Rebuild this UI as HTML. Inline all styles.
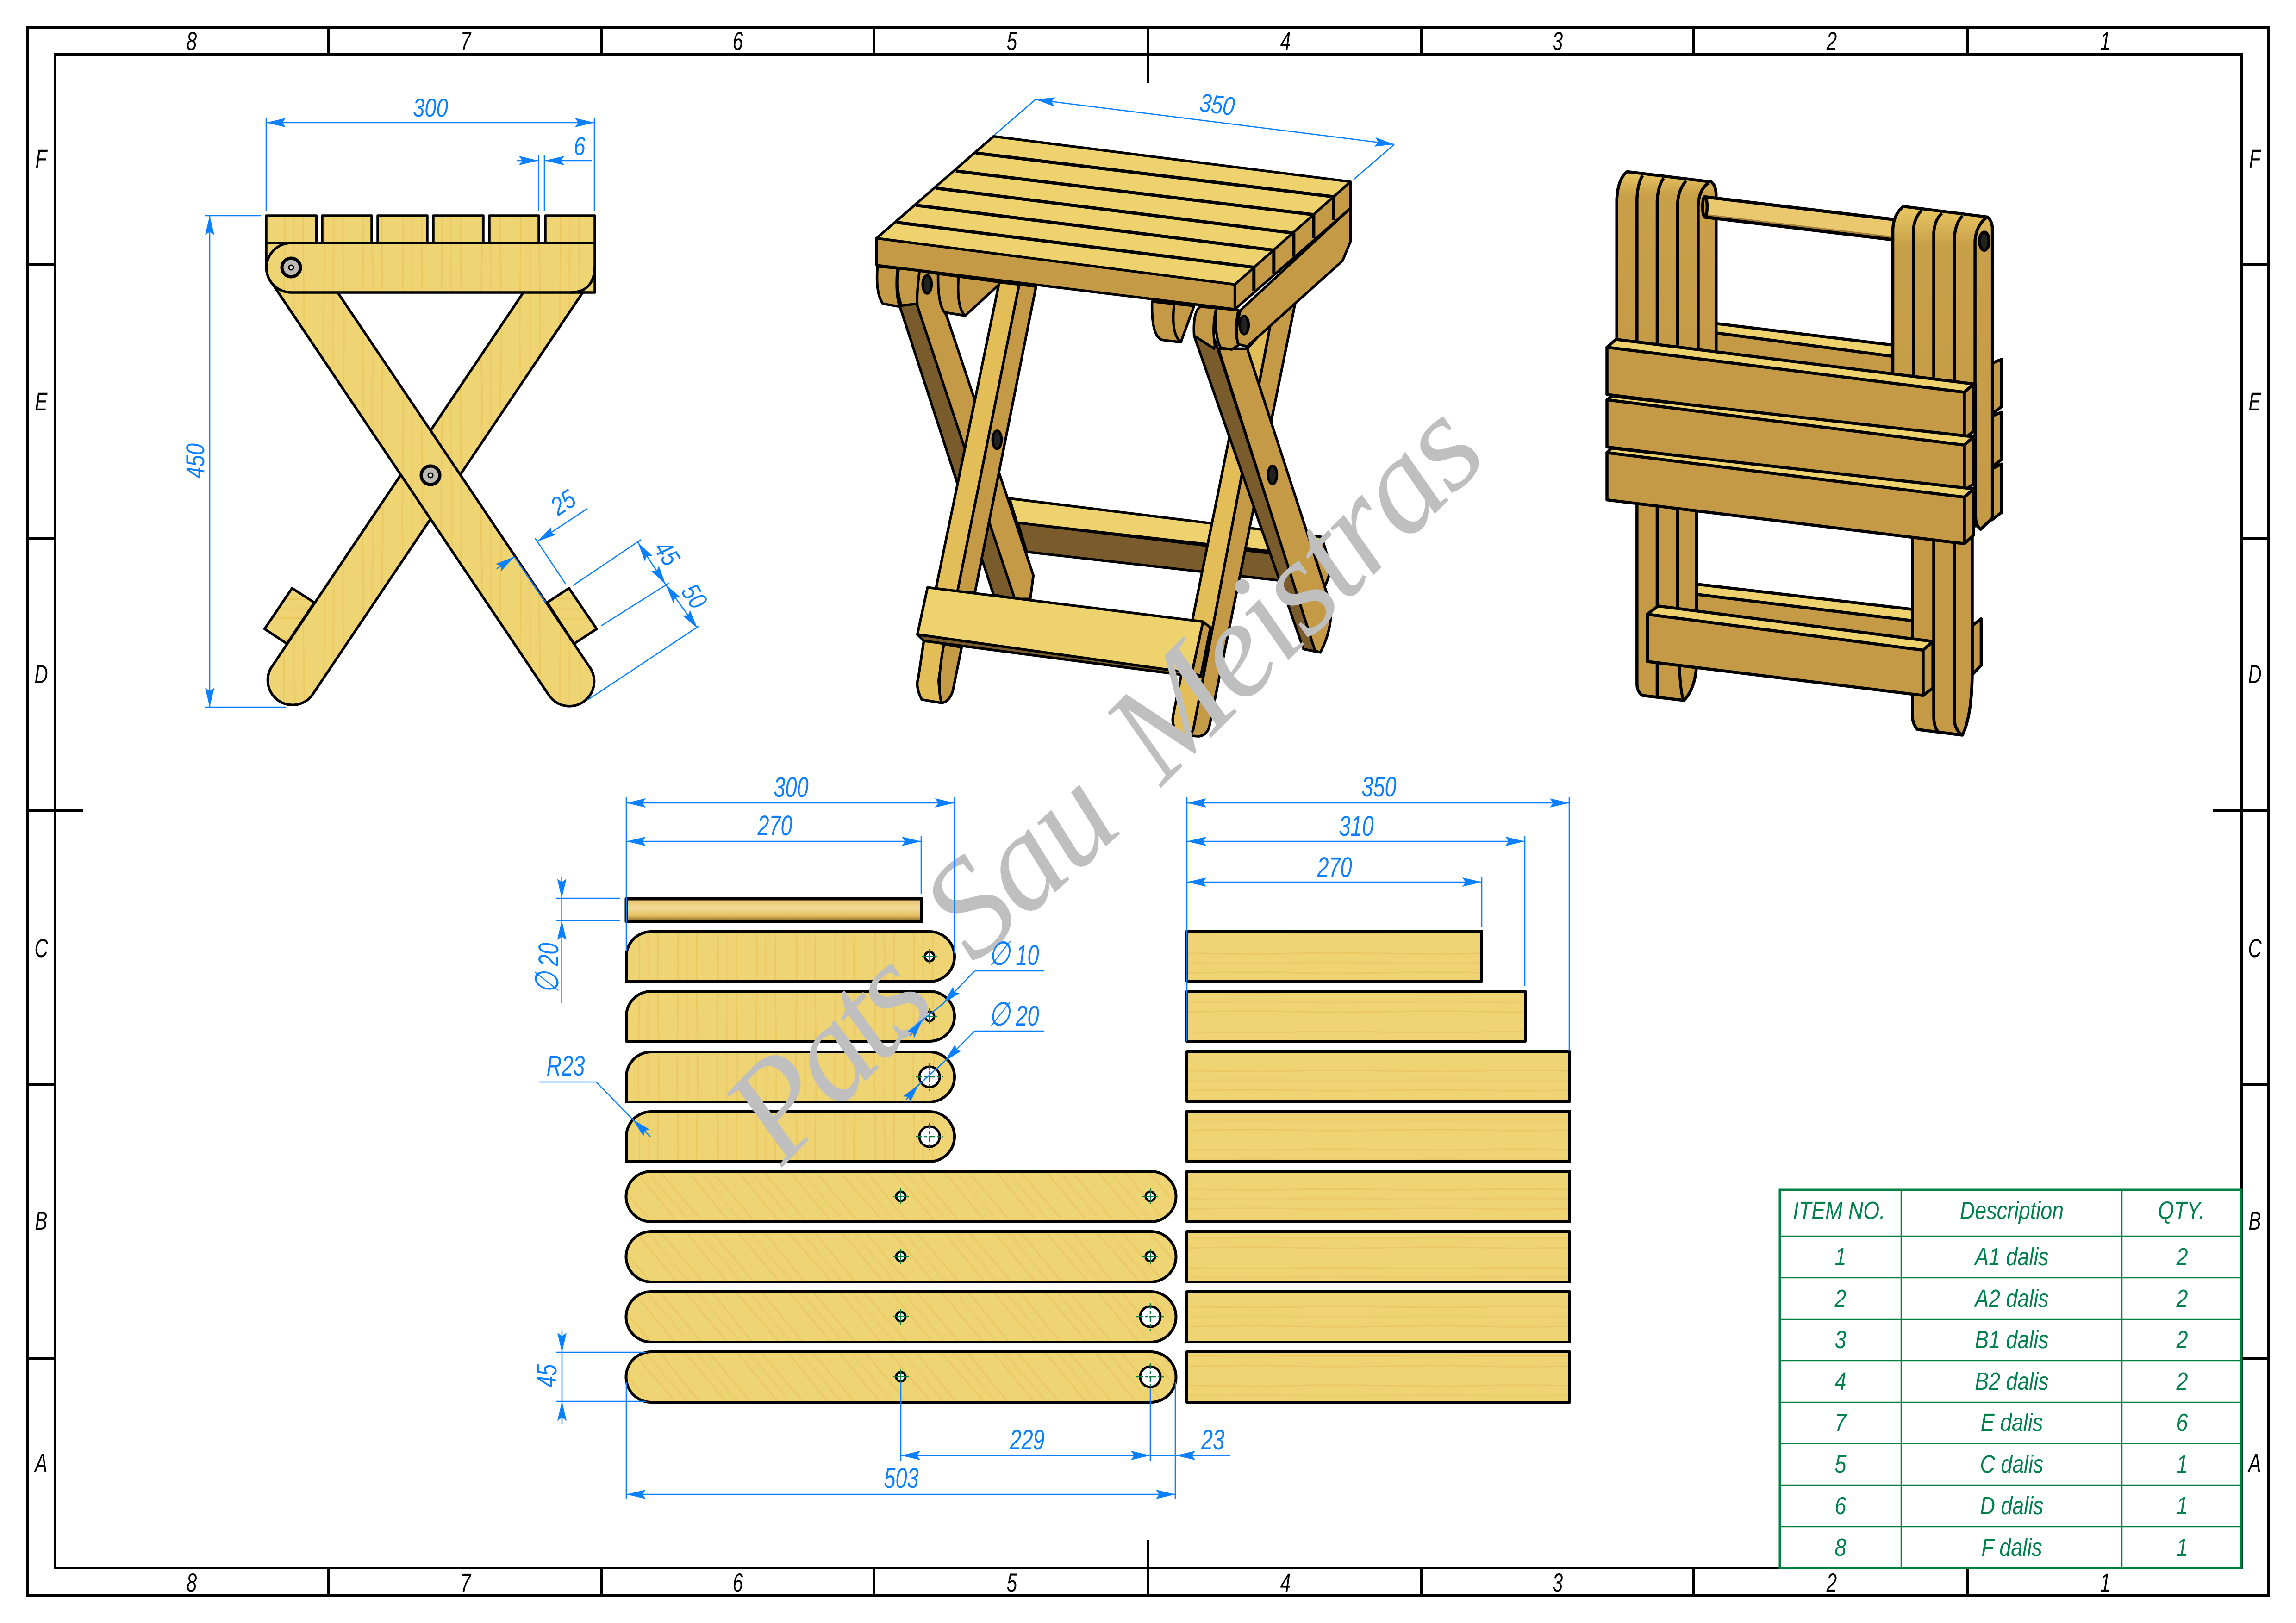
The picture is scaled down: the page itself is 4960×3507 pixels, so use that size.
<!DOCTYPE html>
<html><head><meta charset="utf-8"><title>Folding stool drawing</title>
<style>
html,body{margin:0;padding:0;background:#fff}
svg{display:block}
text{font-family:"Liberation Sans",sans-serif;font-style:italic}
.d{fill:#0a80ff;font-size:56px;text-anchor:middle}
.e{fill:#0a80ff;font-size:61px;text-anchor:middle}
.t{fill:#00804a;font-size:54px;text-anchor:middle}
.k{fill:#000;font-size:56px;text-anchor:middle}
.w{font-family:"Liberation Serif",serif;font-style:italic;font-size:300px;fill:#bfbfbf}
.z *{vector-effect:non-scaling-stroke}
.dl line,.dl path,.dl polyline{fill:none;stroke:#0a80ff;stroke-width:2.6}
.top{fill:#eed26d}.mid{fill:#c49a46}.drk{fill:#7a5c2c}.lit{fill:#e3bd58}
</style></head><body>
<svg xmlns="http://www.w3.org/2000/svg" width="4960" height="3507" viewBox="0 0 4960 3507">
<defs>
<pattern id="wv" patternUnits="userSpaceOnUse" width="170" height="400">
<rect width="170" height="400" fill="#efd474"/>
<path d="M20,0C24,120 17,260 20,400M62,0C58,140 66,280 62,400M104,0C108,100 100,300 104,400M146,0C142,160 150,250 146,400" fill="none" stroke="#e8bd55" stroke-width="3" opacity=".55"/>
<path d="M40,0C43,150 38,250 40,400M125,0C122,120 128,280 125,400" fill="none" stroke="#ebc862" stroke-width="5" opacity=".5"/>
</pattern>
<pattern id="wh" href="#wv" patternTransform="rotate(90)"/>
<pattern id="wd" href="#wv" patternTransform="rotate(-40)"/>
<linearGradient id="rod" x1="0" y1="0" x2="0" y2="1"><stop offset="0" stop-color="#e8c262"/><stop offset=".4" stop-color="#f0d99a"/><stop offset=".75" stop-color="#e8c060"/><stop offset="1" stop-color="#80622e"/></linearGradient>
<linearGradient id="stack" x1="0" y1="0" x2="0" y2="1"><stop offset="0" stop-color="#eac863"/><stop offset=".12" stop-color="#c9a04a"/><stop offset="1" stop-color="#c49a46"/></linearGradient>
<marker id="a" markerUnits="userSpaceOnUse" markerWidth="44" markerHeight="24" refX="42" refY="12" orient="auto-start-reverse"><path d="M42,12L0,2L7,12L0,22Z" fill="#0a80ff"/></marker>
<g id="bolt"><circle r="20" fill="#bdb9b4" stroke="#000" stroke-width="7"/><circle r="5" fill="#ddd" stroke="#000" stroke-width="3"/></g>
<g id="hs"><circle r="10" fill="#fff" stroke="#000" stroke-width="5"/><path d="M-17,0H17M0,-17V17" stroke="#008040" stroke-width="2" fill="none"/></g>
<g id="hb"><circle r="22" fill="#fff" stroke="#000" stroke-width="5"/><path d="M-30,0H30M0,-30V30" stroke="#008040" stroke-width="2.5" fill="none" stroke-dasharray="14 4 6 4"/></g>
</defs>
<rect width="4960" height="3507" fill="#fff"/>

<!-- frame -->
<g fill="none" stroke="#000" stroke-width="6">
<rect x="59" y="59" width="4842" height="3389"/>
<rect x="119" y="118" width="4723" height="3270"/>
<path d="M709,59V118M1300,59V118M1888,59V118M2480,59V180M3071,59V118M3659,59V118M4251,59V118"/>
<path d="M709,3388V3448M1300,3388V3448M1888,3388V3448M2480,3327V3448M3071,3388V3448M3659,3388V3448M4251,3388V3448"/>
<path d="M59,572H119M59,1164H119M59,1752H180M59,2344H119M59,2935H119"/>
<path d="M4842,572H4901M4842,1164H4901M4780,1752H4901M4842,2344H4901M4842,2935H4901"/>
</g>
<g class="k">
<text class="k" transform="translate(414,108) scale(.72,1)">8</text><text class="k" transform="translate(1006,108) scale(.72,1)">7</text><text class="k" transform="translate(1594,108) scale(.72,1)">6</text><text class="k" transform="translate(2186,108) scale(.72,1)">5</text><text class="k" transform="translate(2777,108) scale(.72,1)">4</text><text class="k" transform="translate(3365,108) scale(.72,1)">3</text><text class="k" transform="translate(3957,108) scale(.72,1)">2</text><text class="k" transform="translate(4548,108) scale(.72,1)">1</text>
<text class="k" transform="translate(414,3439) scale(.72,1)">8</text><text class="k" transform="translate(1006,3439) scale(.72,1)">7</text><text class="k" transform="translate(1594,3439) scale(.72,1)">6</text><text class="k" transform="translate(2186,3439) scale(.72,1)">5</text><text class="k" transform="translate(2777,3439) scale(.72,1)">4</text><text class="k" transform="translate(3365,3439) scale(.72,1)">3</text><text class="k" transform="translate(3957,3439) scale(.72,1)">2</text><text class="k" transform="translate(4548,3439) scale(.72,1)">1</text>
<text class="k" transform="translate(89,362) scale(.72,1)">F</text><text class="k" transform="translate(89,887) scale(.72,1)">E</text><text class="k" transform="translate(89,1476) scale(.72,1)">D</text><text class="k" transform="translate(89,2068) scale(.72,1)">C</text><text class="k" transform="translate(89,2657) scale(.72,1)">B</text><text class="k" transform="translate(89,3180) scale(.72,1)">A</text>
<text class="k" transform="translate(4871,362) scale(.72,1)">F</text><text class="k" transform="translate(4871,887) scale(.72,1)">E</text><text class="k" transform="translate(4871,1476) scale(.72,1)">D</text><text class="k" transform="translate(4871,2068) scale(.72,1)">C</text><text class="k" transform="translate(4871,2657) scale(.72,1)">B</text><text class="k" transform="translate(4871,3180) scale(.72,1)">A</text>
</g>

<!-- front view -->
<g stroke="#000" stroke-width="5.5" stroke-linejoin="round" fill="url(#wv)">
<path fill="url(#wh)" d="M631,1271L571.6,1359L620,1391L679,1302Z"/>
<path fill="url(#wh)" d="M1229,1271L1289,1359L1240,1391L1182,1302Z"/>
<path d="M1187,548L585,1444A53.5,53.5 0 0 0 673,1504L1275,608A53.5,53.5 0 0 0 1187,548Z"/>
<path d="M673,548L1275.5,1444A53.5,53.5 0 0 1 1187,1504L585,608A53.5,53.5 0 0 1 673,548Z"/>
<path d="M575,578V525H1285V632H1232"/>
<path d="M629,525H1285V572Q1285,632 1232,632H629A53.5,53.5 0 0 1 629,525Z"/>
<rect x="575" y="466" width="108.500" height="59"/><rect x="696" y="466" width="107" height="59"/><rect x="816" y="466" width="107" height="59"/><rect x="936" y="466" width="108" height="59"/><rect x="1057" y="466" width="107" height="59"/><rect x="1178" y="466" width="107" height="59"/>
</g>
<use href="#bolt" x="629" y="578"/><use href="#bolt" x="930" y="1027"/>
<g class="dl">
<line x1="575" y1="254" x2="575" y2="455"/><line x1="1284" y1="254" x2="1284" y2="455"/>
<line x1="575" y1="265" x2="1284" y2="265" marker-start="url(#a)" marker-end="url(#a)"/>
<line x1="1163.500" y1="335" x2="1163.500" y2="455"/><line x1="1176" y1="335" x2="1176" y2="455"/>
<line x1="1117" y1="347" x2="1163" y2="347" marker-end="url(#a)"/><line x1="1279" y1="347" x2="1177" y2="347" marker-end="url(#a)"/>
<line x1="443" y1="466" x2="563" y2="466"/><line x1="443" y1="1528" x2="617" y2="1528"/>
<line x1="453" y1="466" x2="453" y2="1528" marker-start="url(#a)" marker-end="url(#a)"/>
<line x1="1156" y1="1163" x2="1222" y2="1262"/><line x1="1111" y1="1203" x2="1179" y2="1302"/>
<line x1="1269" y1="1099" x2="1161" y2="1170" marker-end="url(#a)"/><line x1="1073" y1="1229" x2="1111" y2="1203" marker-end="url(#a)"/>
<line x1="1238" y1="1265" x2="1385" y2="1166"/><line x1="1299" y1="1352" x2="1445" y2="1260"/><line x1="1270" y1="1512" x2="1511" y2="1352"/>
<line x1="1378" y1="1172" x2="1438" y2="1263" marker-start="url(#a)" marker-end="url(#a)"/>
<line x1="1438" y1="1263" x2="1507" y2="1358" marker-start="url(#a)" marker-end="url(#a)"/>
</g>
<text class="d" transform="translate(930,252) scale(.81,1)">300</text>
<text class="d" transform="translate(1252,335) scale(.81,1)">6</text>
<text class="d" transform="translate(441,996) rotate(-90) scale(.81,1)">450</text>
<text class="d" transform="translate(1227,1102) rotate(-33) scale(.81,1)">25</text>
<text class="d" transform="translate(1425,1206) rotate(56) scale(.81,1)">45</text>
<text class="d" transform="translate(1484,1299) rotate(56) scale(.81,1)">50</text>

<!-- isometric stool -->
<g class="z" transform="translate(1800,180) scale(.9566,.9247)" stroke="#000" stroke-width="5.5" stroke-linejoin="round">
<polygon class="top" points="398,970 1103,1060 1085,1105 415,1027"/>
<polygon class="drk" points="417,1027 1095,1112 1095,1172 437,1095"/>
<polygon class="mid" points="1103,1060 1125,1135 1112,1172 1090,1170 1085,1105"/>
<path class="lit" d="M935,620L988,560L815,1500Q812,1522 800,1524L780,1520Q762,1500 768,1475Z"/>
<path class="mid" d="M988,560L1043,515L850,1500Q845,1524 825,1526L800,1524Q812,1522 815,1500Z"/>
<path class="mid" d="M720,510L815,520L785,605L745,600Q718,595 720,510Z"/><path fill="none" d="M770,515Q762,585 785,605"/>
<path class="mid" d="M237,445L380,465L298,543L250,535Q235,520 237,445Z"/><path fill="none" d="M283,450Q278,525 298,543"/>
<path class="mid" d="M100,428L145,432Q140,490 150,522L112,515Q95,490 100,428Z"/>
<path class="mid" d="M148,432L195,438Q188,490 192,510L190,525L155,522Q140,480 148,432Z"/>
<polygon class="drk" points="150,520 190,515 410,1205 362,1195"/>
<path class="mid" d="M195,438L237,445Q235,520 255,540L452,1150L445,1205L410,1205L190,520Q188,490 195,438Z"/>
<ellipse cx="212" cy="470" rx="10" ry="21" fill="#222"/>
<polygon class="lit" points="375,465 420,470 280,1190 232,1180"/>
<polygon class="mid" points="420,470 458,475 320,1190 280,1190"/>
<ellipse cx="370" cy="833" rx="10" ry="21" fill="#222"/>
<path class="lit" d="M205,1300L250,1310L238,1395Q240,1430 245,1448L200,1440Q185,1410 192,1390Z"/>
<path class="mid" d="M250,1310L290,1318L270,1420Q262,1445 245,1448Q232,1410 250,1310Z"/>
<polygon class="drk" points="190,1288 810,1378 830,1388 205,1303"/>
<polygon class="mid" points="835,1258 852,1272 830,1385 810,1378"/>
<polygon class="top" points="213,1178 835,1258 810,1378 190,1288"/>
<polygon class="drk" points="815,590 862,600 1090,1328 1062,1322"/>
<path class="mid" d="M870,620L935,620L1122,1215Q1130,1270 1100,1330L1088,1326Z"/>
<ellipse cx="992" cy="915" rx="10" ry="21" fill="#222"/>
<path class="mid" d="M815,590Q812,530 830,522L865,525Q855,570 862,612L860,620Z"/>
<path class="mid" d="M865,525L915,530Q905,580 915,612L900,622L875,618Q860,590 865,525Z"/>
<path class="mid" d="M1168,292V370L1150,415L935,615L915,610Q905,580 920,530Z"/>
<ellipse cx="928" cy="565" rx="10" ry="21" fill="#222"/>
<polygon class="mid" points="98,362 907,470 907,528 98,425"/>
<polygon class="mid" points="1168,230 907,470 907,528 1168,292"/>
<polygon class="top" points="362,124 1168,230 907,470 98,362"/>
<g fill="none" stroke-width="7">
<path d="M322,163L1130,265M277,205L1085,307M232,245L1040,350M187,285L995,390M143,325L950,430"/>
<path d="M950,430V485M995,390V445M1040,350V405M1085,307V362M1130,265V320"/>
</g>
</g>
<g class="dl">
<line x1="2149" y1="291" x2="2237" y2="215"/><line x1="2924" y1="388" x2="3012" y2="312"/>
<line x1="2237" y1="215" x2="3012" y2="312" marker-start="url(#a)" marker-end="url(#a)"/>
</g>
<text class="d" transform="translate(2627,245) rotate(7) scale(.81,1)">350</text>

<!-- folded stool -->
<g class="z" transform="translate(3400,340) scale(.606,.816)" stroke="#000" stroke-width="6.5" stroke-linejoin="round">
<polygon class="mid" points="1490,545 1525,535 1525,660 1490,680"/>
<polygon class="mid" points="1490,685 1525,675 1525,800 1490,820"/>
<polygon class="mid" points="1490,825 1525,812 1525,940 1490,960"/>
<polygon class="mid" points="1420,1240 1452,1222 1452,1345 1420,1370"/>
<polygon class="top" points="507,440 1137,497 1137,527 507,465"/>
<polygon class="mid" points="507,465 1137,527 1137,600 507,540"/>
<polygon class="top" points="435,1130 1207,1197 1207,1227 435,1157"/>
<polygon class="mid" points="435,1157 1207,1227 1207,1300 435,1230"/>
<path class="mid" d="M225,915H437V1350Q430,1410 392,1438L245,1425Q225,1415 225,1395Z"/>
<path fill="none" d="M297,915V1430M370,925Q365,1410 392,1438"/>
<path class="mid" d="M1207,1005H1420V1370Q1418,1480 1385,1530L1225,1515Q1207,1500 1207,1480Z"/>
<path fill="none" d="M1283,1005V1480Q1283,1510 1300,1522M1357,1015V1490Q1357,1515 1385,1530"/>
<path fill="url(#stack)" d="M153,500V110Q158,55 190,38L490,65Q507,75 507,100V540H153Z"/>
<path fill="none" d="M225,500V110Q227,70 245,48M297,500V115Q300,75 320,55M370,510V120Q373,85 400,62M443,520V130Q445,85 480,68"/>
<polygon fill="#e9c86e" points="470,105 1145,165 1135,218 465,158"/>
<polygon fill="#a5803a" stroke="none" points="468,150 1138,209 1135,216 466,156"/>
<path fill="none" stroke-width="7" d="M470,105L1145,165M1135,218L465,158"/>
<ellipse cx="467" cy="131" rx="8" ry="27" class="mid"/>
<path fill="url(#stack)" d="M1137,590V190Q1140,150 1175,130L1475,158Q1492,170 1492,190V955L1450,985Q1432,975 1432,950V600Z"/>
<path fill="none" d="M1210,600V195Q1213,160 1240,140M1283,600V200Q1286,165 1312,148M1357,600V210Q1360,175 1385,155M1430,980V220Q1435,180 1470,160"/>
<ellipse cx="1463" cy="222" rx="17" ry="24" fill="#222"/>
<polygon class="top" points="118,503 150,482 1425,600 1392,622"/>
<polygon class="mid" points="118,503 1392,622 1392,745 118,628"/>
<polygon class="mid" points="1392,622 1425,600 1425,725 1392,745"/>
<polygon class="top" points="118,642 135,632 1425,740 1392,762"/>
<polygon class="mid" points="118,642 1392,762 1392,882 118,767"/>
<polygon class="mid" points="1392,762 1425,740 1425,865 1392,882"/>
<polygon class="top" points="118,782 135,770 1425,878 1392,900"/>
<polygon class="mid" points="118,782 1392,900 1392,1023 118,907"/>
<polygon class="mid" points="1392,900 1425,878 1425,1000 1392,1023"/>
<polygon class="top" points="262,1210 300,1188 1280,1282 1245,1305"/>
<polygon class="mid" points="262,1210 1245,1305 1245,1425 262,1335"/>
<polygon class="mid" points="1245,1305 1280,1282 1280,1405 1245,1425"/>
</g>

<!-- parts: left column -->
<g stroke="#000" stroke-width="6" stroke-linejoin="round" fill="url(#wv)">
<rect x="1353" y="1942" width="638" height="49" fill="url(#rod)" stroke-width="7"/>
<path d="M1353,2121V2067A54,54 0 0 1 1407,2013H2008A54,54 0 0 1 2008,2121Z"/>
<path d="M1353,2250V2196A54,54 0 0 1 1407,2142H2008A54,54 0 0 1 2008,2250Z"/>
<path d="M1353,2381V2327A54,54 0 0 1 1407,2273H2008A54,54 0 0 1 2008,2381Z"/>
<path d="M1353,2510V2456A54,54 0 0 1 1407,2402H2008A54,54 0 0 1 2008,2510Z"/>
<path fill="url(#wd)" d="M1407,2531H2486A54.500,54.500 0 0 1 2486,2640H1407A54.500,54.500 0 0 1 1407,2531Z"/>
<path fill="url(#wd)" d="M1407,2661H2486A54.500,54.500 0 0 1 2486,2770H1407A54.500,54.500 0 0 1 1407,2661Z"/>
<path fill="url(#wd)" d="M1407,2791H2486A54.500,54.500 0 0 1 2486,2900H1407A54.500,54.500 0 0 1 1407,2791Z"/>
<path fill="url(#wd)" d="M1407,2921H2486A54.500,54.500 0 0 1 2486,3030H1407A54.500,54.500 0 0 1 1407,2921Z"/>
<g fill="url(#wh)">
<rect x="2564" y="2012" width="637" height="108"/><rect x="2564" y="2142" width="731" height="108"/>
<rect x="2564" y="2272" width="827" height="108"/><rect x="2564" y="2401" width="827" height="109"/>
<rect x="2564" y="2531" width="827" height="109"/><rect x="2564" y="2661" width="827" height="109"/>
<rect x="2564" y="2791" width="827" height="109"/><rect x="2564" y="2921" width="827" height="109"/>
</g>
</g>
<use href="#hs" x="2008" y="2067"/><use href="#hs" x="2008" y="2196"/><use href="#hb" x="2008" y="2327"/><use href="#hb" x="2008" y="2456"/>
<use href="#hs" x="1946" y="2585"/><use href="#hs" x="2485" y="2585"/><use href="#hs" x="1946" y="2715"/><use href="#hs" x="2485" y="2715"/>
<use href="#hs" x="1946" y="2845"/><use href="#hb" x="2485" y="2845"/><use href="#hs" x="1946" y="2975"/><use href="#hb" x="2485" y="2975"/>

<!-- watermark -->
<text class="w" transform="translate(1690,2522) rotate(-46)" textLength="490">Pats</text>
<text class="w" transform="translate(2105,2085) rotate(-42)" textLength="440">Sau</text>
<text class="w" transform="translate(2510,1700) rotate(-45)" textLength="1005">Meistras</text>

<!-- part dimensions -->
<g class="dl">
<line x1="1353" y1="1723" x2="1353" y2="2055"/><line x1="2062" y1="1723" x2="2062" y2="2060"/>
<line x1="1353" y1="1735" x2="2062" y2="1735" marker-start="url(#a)" marker-end="url(#a)"/>
<line x1="1990" y1="1806" x2="1990" y2="1931"/>
<line x1="1353" y1="1818" x2="1990" y2="1818" marker-start="url(#a)" marker-end="url(#a)"/>
<line x1="1202" y1="1941" x2="1340" y2="1941"/><line x1="1202" y1="1989" x2="1340" y2="1989"/>
<line x1="1213.600" y1="1896" x2="1213.600" y2="1941" marker-end="url(#a)"/><line x1="1213.600" y1="2168" x2="1213.600" y2="1989" marker-end="url(#a)"/><line x1="1213.600" y1="1941" x2="1213.600" y2="1989"/>
<polyline points="2255,2098 2105.600,2098"/><line x1="2105.600" y1="2098" x2="2037" y2="2169" marker-end="url(#a)"/><line x1="2037" y1="2169" x2="1979" y2="2215"/><line x1="1966" y1="2238" x2="1993" y2="2203" marker-end="url(#a)"/>
<polyline points="2255,2228 2105.600,2228"/><line x1="2105.600" y1="2228" x2="2041" y2="2293" marker-end="url(#a)"/><line x1="2041" y1="2293" x2="1975" y2="2353"/><line x1="1958" y1="2376" x2="1985" y2="2343" marker-end="url(#a)"/>
<polyline points="1165,2338 1288,2338"/><line x1="1288" y1="2338" x2="1367" y2="2419"/><line x1="1405" y1="2456" x2="1367" y2="2419" marker-end="url(#a)"/>
<line x1="2564" y1="1723" x2="2564" y2="2249"/><line x1="3390" y1="1723" x2="3390" y2="2270"/>
<line x1="2564" y1="1735" x2="3390" y2="1735" marker-start="url(#a)" marker-end="url(#a)"/>
<line x1="3294" y1="1806" x2="3294" y2="2131"/>
<line x1="2564" y1="1818" x2="3294" y2="1818" marker-start="url(#a)" marker-end="url(#a)"/>
<line x1="3201" y1="1895" x2="3201" y2="2003"/>
<line x1="2564" y1="1906" x2="3201" y2="1906" marker-start="url(#a)" marker-end="url(#a)"/>
<line x1="1202" y1="2922" x2="1396" y2="2922"/><line x1="1202" y1="3028" x2="1396" y2="3028"/>
<line x1="1214" y1="2875" x2="1214" y2="2922" marker-end="url(#a)"/><line x1="1214" y1="3076" x2="1214" y2="3028" marker-end="url(#a)"/><line x1="1214" y1="2922" x2="1214" y2="3028"/>
<line x1="1946" y1="2986" x2="1946" y2="3158"/><line x1="2485" y1="3000" x2="2485" y2="3158"/>
<line x1="1946" y1="3145" x2="2485" y2="3145" marker-start="url(#a)" marker-end="url(#a)"/>
<line x1="2657" y1="3145" x2="2540" y2="3145" marker-end="url(#a)"/><line x1="2485" y1="3145" x2="2540" y2="3145"/>
<line x1="1353" y1="2987" x2="1353" y2="3240"/><line x1="2539" y1="2987" x2="2539" y2="3240"/>
<line x1="1353" y1="3229" x2="2539" y2="3229" marker-start="url(#a)" marker-end="url(#a)"/>
</g>
<g>
<text class="e" transform="translate(1709,1722) scale(.74,1)">300</text>
<text class="e" transform="translate(1674,1805) scale(.74,1)">270</text>
<text class="e" transform="translate(1206,2092) rotate(-90) scale(.74,1)"><tspan font-size="72">∅</tspan> 20</text>
<text class="e" transform="translate(2190,2085) scale(.74,1)"><tspan font-size="72">∅</tspan> 10</text>
<text class="e" transform="translate(2190,2216) scale(.74,1)"><tspan font-size="72">∅</tspan> 20</text>
<text class="e" transform="translate(1222,2324) scale(.74,1)">R23</text>
<text class="e" transform="translate(2979,1721) scale(.74,1)">350</text>
<text class="e" transform="translate(2930,1806) scale(.74,1)">310</text>
<text class="e" transform="translate(2883,1895) scale(.74,1)">270</text>
<text class="e" transform="translate(1202,2973) rotate(-90) scale(.74,1)">45</text>
<text class="e" transform="translate(2219,3132) scale(.74,1)">229</text>
<text class="e" transform="translate(2620,3132) scale(.74,1)">23</text>
<text class="e" transform="translate(1947,3215) scale(.74,1)">503</text>
</g>

<!-- table -->
<rect x="3845" y="2571" width="997" height="817" fill="#fff" stroke="#008040" stroke-width="5"/>
<path d="M4107,2571V3388M4584,2571V3388M3845,2671H4842M3845,2761H4842M3845,2851H4842M3845,2940H4842M3845,3030H4842M3845,3119H4842M3845,3209H4842M3845,3299H4842" fill="none" stroke="#008040" stroke-width="2.5"/>
<g>
<text class="t" transform="translate(3973,2634) scale(.83,1)">ITEM NO.</text><text class="t" transform="translate(4346,2634) scale(.83,1)">Description</text><text class="t" transform="translate(4712,2634) scale(.83,1)">QTY.</text>
<text class="t" transform="translate(3976,2734) scale(.83,1)">1</text><text class="t" transform="translate(4346,2734) scale(.83,1)">A1 dalis</text><text class="t" transform="translate(4714,2734) scale(.83,1)">2</text>
<text class="t" transform="translate(3976,2824) scale(.83,1)">2</text><text class="t" transform="translate(4346,2824) scale(.83,1)">A2 dalis</text><text class="t" transform="translate(4714,2824) scale(.83,1)">2</text>
<text class="t" transform="translate(3976,2913) scale(.83,1)">3</text><text class="t" transform="translate(4346,2913) scale(.83,1)">B1 dalis</text><text class="t" transform="translate(4714,2913) scale(.83,1)">2</text>
<text class="t" transform="translate(3976,3003) scale(.83,1)">4</text><text class="t" transform="translate(4346,3003) scale(.83,1)">B2 dalis</text><text class="t" transform="translate(4714,3003) scale(.83,1)">2</text>
<text class="t" transform="translate(3976,3092) scale(.83,1)">7</text><text class="t" transform="translate(4346,3092) scale(.83,1)">E dalis</text><text class="t" transform="translate(4714,3092) scale(.83,1)">6</text>
<text class="t" transform="translate(3976,3182) scale(.83,1)">5</text><text class="t" transform="translate(4346,3182) scale(.83,1)">C dalis</text><text class="t" transform="translate(4714,3182) scale(.83,1)">1</text>
<text class="t" transform="translate(3976,3272) scale(.83,1)">6</text><text class="t" transform="translate(4346,3272) scale(.83,1)">D dalis</text><text class="t" transform="translate(4714,3272) scale(.83,1)">1</text>
<text class="t" transform="translate(3976,3362) scale(.83,1)">8</text><text class="t" transform="translate(4346,3362) scale(.83,1)">F dalis</text><text class="t" transform="translate(4714,3362) scale(.83,1)">1</text>
</g>
</svg>
</body></html>
